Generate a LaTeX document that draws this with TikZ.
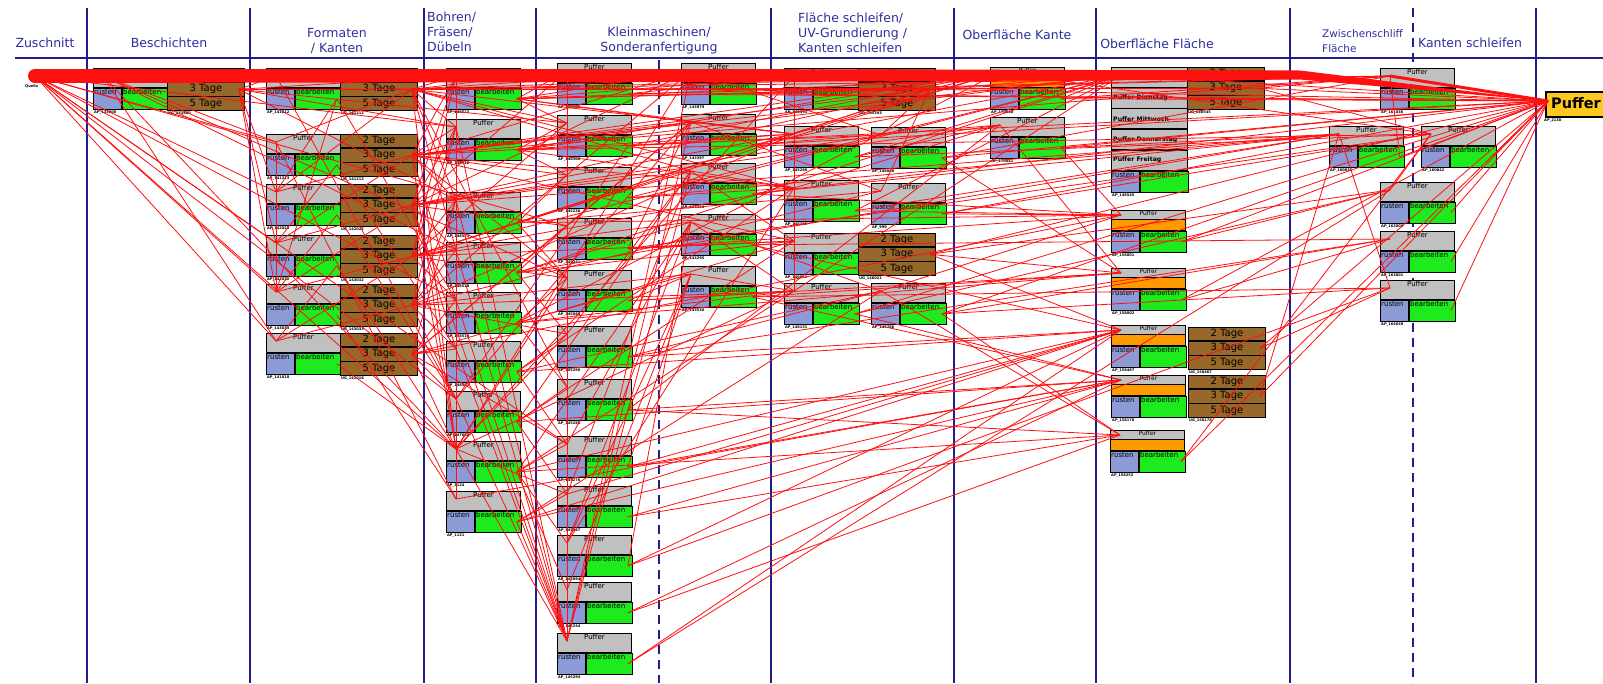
\documentclass[tikz,border=0pt]{standalone}
\usepackage{fontspec}
\setmainfont{DejaVu Sans}
\usetikzlibrary{calc}
\definecolor{pgray}{HTML}{C0C0C0}
\definecolor{pblue}{HTML}{8C9BD6}
\definecolor{pgreen}{HTML}{1EEB1E}
\definecolor{pbrown}{HTML}{98682A}
\definecolor{porange}{HTML}{FF9A00}
\definecolor{pyellow}{HTML}{FFC81E}
\definecolor{navy}{HTML}{1E1E8C}
\definecolor{hblue}{HTML}{2E2E9E}
\definecolor{wire}{HTML}{FF1010}

\tikzset{
  box/.style={draw=black, line width=0.9pt, inner sep=0pt, anchor=north west},
  pufbox/.style={box, fill=pgray, minimum width=74pt, minimum height=19pt},
  rusbox/.style={box, fill=pblue, minimum width=28pt, minimum height=21pt},
  beabox/.style={box, fill=pgreen, minimum width=46pt, minimum height=21pt},
  orbox/.style={box, fill=porange, minimum width=74pt, minimum height=10.5pt},
  tagbox/.style={box, fill=pbrown, minimum width=77pt, minimum height=13.3pt,
    font=\fontsize{10}{10}\selectfont},
  btxt/.style={font=\fontsize{7}{7}\selectfont, inner sep=1pt, anchor=north},
  dtxt/.style={font=\bfseries\fontsize{6.2}{6.2}\selectfont, inner sep=2pt, anchor=west},
  lbl/.style={font=\bfseries\fontsize{3.6}{4}\selectfont, anchor=north west, inner sep=1pt},
  head/.style={text=hblue, font=\fontsize{12.5}{15}\selectfont, align=center, inner sep=0pt},
  sep/.style={draw=navy, line width=1.8pt},
  dsep/.style={draw=navy, line width=1.5pt, dash pattern=on 9pt off 6pt},
  edge/.style={draw=wire, line width=0.8pt},
}

% Puffer / ruesten / bearbeiten block: name, x, y, label
\newcommand\ablock[4]{%
  \node[pufbox] (#1p) at (#2,#3) {};
  \node[btxt] at (#1p.north) {Puffer};
  \node[rusbox] (#1r) at (#1p.south west) {};
  \node[btxt,anchor=north west] at (#1r.north west) {rüsten};
  \node[beabox] (#1b) at (#1r.north east) {};
  \node[btxt,anchor=north west] at (#1b.north west) {bearbeiten};
  \node[lbl] at (#1r.south west) {#4};
  \coordinate (#1) at ($(#1p.north west)+(10,8)$);
  \coordinate (#1o) at ($(#1b.east)+(-5,0)$);
}
% block with an orange stripe below the Puffer strip
\newcommand\oblock[4]{%
  \node[pufbox, minimum height=8.5pt] (#1p) at (#2,#3) {};
  \node[btxt, font=\fontsize{6}{6}\selectfont, inner sep=0.6pt] at (#1p.north) {Puffer};
  \node[orbox] (#1g) at (#1p.south west) {};
  \node[rusbox, minimum height=21pt] (#1r) at (#1g.south west) {};
  \node[btxt,anchor=north west] at (#1r.north west) {rüsten};
  \node[beabox, minimum height=21pt] (#1b) at (#1r.north east) {};
  \node[btxt,anchor=north west] at (#1b.north west) {bearbeiten};
  \node[lbl] at (#1r.south west) {#4};
  \coordinate (#1) at ($(#1p.north west)+(10,5)$);
  \coordinate (#1o) at ($(#1b.east)+(-5,0)$);
}
% 2/3/5 Tage stack: name, x, y, label
\newcommand\tblock[4]{%
  \node[tagbox] (#1a) at (#2,#3) {2 Tage};
  \node[tagbox] (#1c) at (#1a.south west) {3 Tage};
  \node[tagbox] (#1d) at (#1c.south west) {5 Tage};
  \node[lbl] at (#1d.south west) {#4};
  \coordinate (#1) at ($(#1c.east)+(-6,0)$);
}

\begin{document}
\begin{tikzpicture}[x=1pt,y=-1pt]
\useasboundingbox (0,0) rectangle (1603,683);
\fill[white] (0,0) rectangle (1603,683);

% ---- column grid ----
\draw[sep] (15,58) -- (1603,58);
\foreach \x in {87,250,424,536,771,954,1096,1290,1536}
  \draw[sep] (\x,8) -- (\x,683);
\draw[dsep] (659,60) -- (659,683);
\draw[dsep] (1413,8) -- (1413,683);

% ---- column headings ----
\node[head] (h1) at (45,43) {Zuschnitt};
\node[head] (h2) at (169,43) {Beschichten};
\node[head] (h3) at (337,41) {Formaten\\/ Kanten};
\node[head, anchor=west, align=left] (h4) at (427,32) {Bohren/\\Fräsen/\\Dübeln};
\node[head] (h5) at (659,41) {Kleinmaschinen/\\Sonderanfertigung};
\node[head, anchor=west, align=left] (h6) at (798,33) {Fläche schleifen/\\UV-Grundierung /\\Kanten schleifen};
\node[head] (h7) at (1017,35) {Oberfläche Kante};
\node[head] (h8) at (1157,44) {Oberfläche Fläche};
\node[head, anchor=west, align=left, font=\fontsize{10.5}{15}\selectfont] (h9) at (1322,41) {Zwischenschliff\\Fläche};
\node[head] (h10) at (1470,43) {Kanten schleifen};

% ---- source ----
\coordinate (q) at (35,76);
\node[lbl] (ql) at (24,84) {Quelle};

% ---- Beschichten ----
\ablock{b1}{93}{68}{AP\_133800}
\tblock{b1t}{167}{68}{UG\_133800}

% ---- Formaten / Kanten ----
\ablock{f1}{266}{68}{AP\_141212}   \tblock{f1t}{340}{68}{UG\_141212}
\ablock{f2}{266}{134}{AP\_141213}  \tblock{f2t}{340}{134}{UG\_141213}
\ablock{f3}{266}{184}{AP\_142025}  \tblock{f3t}{340}{184}{UG\_142025}
\ablock{f4}{266}{235}{AP\_143032}  \tblock{f4t}{340}{235}{UG\_143032}
\ablock{f5}{266}{284}{AP\_143033}  \tblock{f5t}{340}{284}{UG\_143033}
\ablock{f6}{266}{333}{AP\_141018}  \tblock{f6t}{340}{333}{UG\_141018}

% ---- Bohren / Fraesen / Duebeln ----
\ablock{d1}{446}{68}{AP\_146513}
\ablock{d2}{446}{119}{AP\_146512}
\ablock{d3}{446}{192}{AP\_146521}
\ablock{d4}{446}{242}{AP\_148528}
\ablock{d5}{446}{292}{AP\_148538}
\ablock{d6}{446}{341}{AP\_148532}
\ablock{d7}{446}{391}{AP\_147680}
\ablock{d8}{446}{441}{AP\_3124}
\ablock{d9}{446}{491}{AP\_1121}

% ---- Kleinmaschinen / Sonderanfertigung ----
\ablock{k1}{557}{63}{AP\_145180}
\ablock{k2}{557}{115}{AP\_146300}
\ablock{k3}{557}{167}{AP\_145230}
\ablock{k4}{557}{218}{AP\_145241}
\ablock{k5}{557}{270}{AP\_145088}
\ablock{k6}{557}{326}{AP\_145290}
\ablock{k7}{557}{379}{AP\_145280}
\ablock{k8}{557}{436}{AP\_145276}
\ablock{k9}{557}{486}{AP\_145247}
\ablock{k10}{557}{535}{AP\_145094}
\ablock{k11}{557}{582}{AP\_145244}
\ablock{k12}{557}{633}{AP\_145294}
\ablock{s1}{681}{63}{AP\_143979}
\ablock{s2}{681}{114}{AP\_143397}
\ablock{s3}{681}{163}{AP\_143226}
\ablock{s4}{681}{214}{AP\_143295}
\ablock{s5}{681}{266}{AP\_143530}

% ---- Flaeche schleifen / UV / Kanten schleifen ----
\ablock{g1}{784}{68}{AP\_145393}   \tblock{g1t}{858}{68}{UG\_145393}
\ablock{g2}{784}{126}{AP\_145286}
\ablock{g3}{871}{127}{AP\_146068}
\ablock{g4}{784}{180}{AP\_145285}
\ablock{g5}{871}{183}{AP\_999}
\ablock{g6}{784}{233}{AP\_146021}  \tblock{g6t}{858}{233}{UG\_146021}
\ablock{g7}{784}{283}{AP\_146131}
\ablock{g8}{871}{283}{AP\_145786}

% ---- Oberflaeche Kante ----
\oblock{o1}{990}{67}{AP\_170040}
\ablock{o2}{990}{117}{AP\_170041}

% ---- Oberflaeche Flaeche ----
\node[pufbox, minimum width=76pt, minimum height=19.8pt] (m0a) at (1111,67) {};
\node[dtxt] at (m0a.west) {Puffer Montag};
\node[pufbox, minimum width=76pt, minimum height=19.8pt] (m0b) at (m0a.south west) {};
\node[dtxt] at (m0b.west) {Puffer Dienstag};
\node[pufbox, minimum width=76pt, minimum height=19.8pt] (m0c) at (m0b.south west) {};
\node[dtxt] at (m0c.west) {Puffer Mittwoch};
\node[pufbox, minimum width=76pt, minimum height=19.8pt] (m0d) at (m0c.south west) {};
\node[dtxt] at (m0d.west) {Puffer Donnerstag};
\node[pufbox, minimum width=76pt, minimum height=19.8pt] (m0e) at (m0d.south west) {};
\node[dtxt] at (m0e.west) {Puffer Freitag};
\node[rusbox, minimum height=21pt] (m0r) at (m0e.south west) {};
\node[btxt,anchor=north west] at (m0r.north west) {rüsten};
\node[beabox, minimum width=48pt, minimum height=21pt] (m0g) at (m0r.north east) {};
\node[btxt,anchor=north west] at (m0g.north west) {bearbeiten};
\node[lbl] at (m0r.south west) {AP\_146545};
\coordinate (m0) at ($(m0a.north west)+(10,8)$);
\tblock{m0t}{1187}{67}{UG\_146545}
\oblock{m1}{1111}{210}{AP\_158001}
\oblock{m2}{1111}{268}{AP\_158002}
\oblock{m3}{1111}{325}{AP\_158467}  \tblock{m3t}{1188}{327}{UG\_158467}
\oblock{m4}{1111}{375}{AP\_158178}  \tblock{m4t}{1188}{375}{UG\_158178}
\oblock{m5}{1110}{430}{AP\_158252}

% ---- Zwischenschliff / Kanten schleifen ----
\ablock{z1}{1380}{68}{AP\_161836}
\ablock{z2}{1329}{126}{AP\_160831}
\ablock{z3}{1421}{126}{AP\_160842}
\ablock{z4}{1380}{182}{AP\_163000}
\ablock{z5}{1380}{231}{AP\_163001}
\ablock{z6}{1380}{280}{AP\_164049}

% ---- sink ----
\node[draw=black, line width=2.4pt, fill=pyellow, anchor=north west,
      minimum width=80pt, minimum height=25pt, inner sep=0pt] (Pbox) at (1545,91) {};
\node[anchor=west, inner sep=0pt, font=\bfseries\fontsize{14.5}{14.5}\selectfont] (Ptxt) at (1551,103.5) {Puffer};
\node[lbl] (Plbl) at (1543,118) {AP\_2130};
\coordinate (P) at (1548,101);

% ---- material flow ----
\foreach \a/\b in {
  q/f1,q/f2,q/f3,q/f4,q/f5,q/f6,q/d2,q/d5,q/d7,q/d8,q/k1,q/k4,q/k8,
  b1/f2,b1t/f1,b1t/d1,b1t/d2,b1t/f3,b1t/k2,b1/d4,b1/d8,b1/k5,b1t/g1t,b1t/m0t,
  b1t/f4,b1t/f5,b1/f6,b1t/d3,
  f1o/f3,f2o/f4,f3o/f5,f4o/f6,f1o/f5,f2/f5,
  f1o/d5,f2o/d6,f3o/d7,f4o/d8,f5o/d9,f6o/d8,f1/d7,f2/d9,
  f1t/f2,f1t/f3,f2t/f3,f2t/f4,f3t/f4,f3t/f5,f4t/f5,f4t/f6,f5t/f6,
  f1t/d1,f1t/d2,f1t/k1,f1t/k2,f1t/s1,f1t/g1,f1t/g2,f1t/m0,f1t/d8,f1t/k7,
  f1t/g1t,f1t/m0t,f1t/z1,f1t/d3,f1t/d4,f1t/s3,f1t/g4,
  f2t/d2,f2t/d3,f2t/k3,f2t/s2,f2t/g2,f2t/g4,f2t/o1,f2t/d8,f2t/s1,f2t/g1t,f2t/z1,f2t/m0,
  f2t/d1,f2t/d5,f2t/k5,f2t/g6,
  f3t/d3,f3t/d4,f3t/k4,f3t/s3,f3t/g3,f3t/z2,f3t/d8,f3t/k1,f3t/g2,f3t/o2,f3t/k12,
  f3t/d1,f3t/d2,f3t/d6,f3t/s1,f3t/g1t,
  f4t/d4,f4t/d5,f4t/k5,f4t/s4,f4t/g6,f4t/d1,f4t/m0,f4t/g4,f4t/o1,
  f4t/d2,f4t/d3,f4t/k2,f4t/g1t,
  f5t/d6,f5t/d7,f5t/k6,f5t/s5,f5t/g7,f5t/d2,f5t/g5,f5t/d3,f5t/d4,f5t/k3,f5t/g2,
  f6t/d8,f6t/k8,f6t/d3,f6t/g6,f6t/m1,f6t/d5,f6t/d6,f6t/d7,f6t/s2,f6t/k4,
  d1o/k1,d1o/k2,d1o/s1,d1o/s2,d1o/g1,d1o/g2,d1o/m0,d1/d8,d1/d7,d1o/g1t,d1o/z1,d1/d3,
  d2o/k2,d2o/k3,d2o/s2,d2o/g4,d2o/g3,d2o/o1,d2o/m0,d2/d8,d2o/z3,d2/d4,d2/k12,
  d3o/k3,d3o/k5,d3o/s3,d3o/g5,d3o/m1,d3/d8,d3/k12,d3o/g1t,d3/d6,
  d4o/k4,d4o/k6,d4o/s4,d4o/g6,d4o/z2,d4/d8,d4o/m0,d4/k12,d4/d9,
  d5o/k5,d5o/k7,d5o/s5,d5o/g7,d5o/m2,d5/k12,d5o/o1,d5/d7,
  d6o/k6,d6o/k8,d6o/g8,d6o/m3,d6/d8,d6o/g4,d6/k12,
  d7o/k7,d7o/k9,d7o/s3,d7o/m4,d7/k12,d7o/g6,
  d8o/k8,d8o/k10,d8o/k11,d8o/s4,d8o/g7,d8o/m5,d8/k12,d8o/m3,
  d9o/k9,d9o/k12,d9o/g8,d9/d8,d9o/m4,d9o/m3,
  k1/k2,k1/k6,k1/k12,k1/k9,k1/k10,k1/k11,k2/k7,k3/k8,k4/k12,k5/k12,k2/k11,k3/k12,
  k1/k5,k2/k8,k3/k10,k4/k7,k5/k9,k6/k11,
  k1o/g1,k2o/g2,k3o/g4,k4o/g6,k5o/g7,k6o/m3,k7o/m4,k8o/m4,k9o/m5,k10o/m3,
  k11o/m4,k12o/z4,k6o/g8,k7o/o2,k3o/z2,k4o/z3,k2o/P,k1o/P,k5o/s5,k4o/s2,
  k2o/d7,k5/d8,k9/d8,k8o/s5,k6/d8,k10o/s4,
  k1o/z1,k2o/o1,k3o/m0,k4o/m1,k5o/m2,k6o/z5,k7o/m5,k8o/m3,k9o/m4,k10o/z6,k11o/m5,k12o/m3,
  s1/g1,s1/g3,s2/g2,s2/g5,s3/g4,s3/g6,s4/g7,s4/g8,s5/g7,s5o/m2,s1o/o1,s2o/o2,
  s3o/m1,s4o/z5,s5o/z6,s1o/P,s2o/P,s3o/P,s1/k12,s2/k12,s5/k11,s1/d8,s3/k9,s4/k10,s2/d7,
  s1o/g1t,s2o/m0,s3o/z2,s4o/m3,s5o/m4,s1/k3,s2/k4,s3/k6,s4/k8,s5/k10,s3/k12,
  g1t/o1,g1t/m0,g1t/P,g2o/m0,g2o/o2,g3o/z1,g3o/P,g4o/m1,g4o/z2,g5o/z3,g5o/P,
  g6t/m2,g6t/m3,g6t/P,g7o/m4,g7o/z4,g8o/m5,g8o/z5,g8o/P,g1/g7,g2/g6,g1t/g3,
  g1t/g5,g1/d8,g4/k10,g7/d8,
  g2o/z3,g3o/m2,g4o/m0,g5o/m1,g6t/z4,g7o/P,g8o/z6,
  o1o/m0,o1o/z1,o1o/P,o2o/m1,o2o/z2,o2o/P,o1/g2,o2/g4,o1/z3,o2/m2,
  m0t/z1,m0t/z3,m0t/P,m0/P,m1o/z4,m2o/z5,m3t/z6,m4t/z2,m5o/z3,m1o/P,m3t/P,
  m0/g7,m1/g8,m3/k9,m4/d9,m5/g8,m2o/P,m4t/P,m5o/P,
  z1/P,z2o/P,z3o/P,z4o/P,z5o/P,z6o/P,z2o/z1,z4/z3,z6/z2}
  \draw[edge] (\a) -- (\b);

% main stream from the source to the final buffer
\coordinate (bandA) at (700,76);
\coordinate (bandB) at (1300,75);
\fill[wire] (q) circle[radius=7pt];
\fill[wire] ($(q)+(0,-7)$) -- ($(bandA)+(0,-7)$) -- ($(bandB)+(0,-4.5)$) -- (P)
  -- ($(bandB)+(0,4.5)$) -- ($(bandA)+(0,6)$) -- ($(q)+(0,7)$) -- cycle;
\draw[wire, line width=3pt] (z1) -- (P);
\end{tikzpicture}
\end{document}
